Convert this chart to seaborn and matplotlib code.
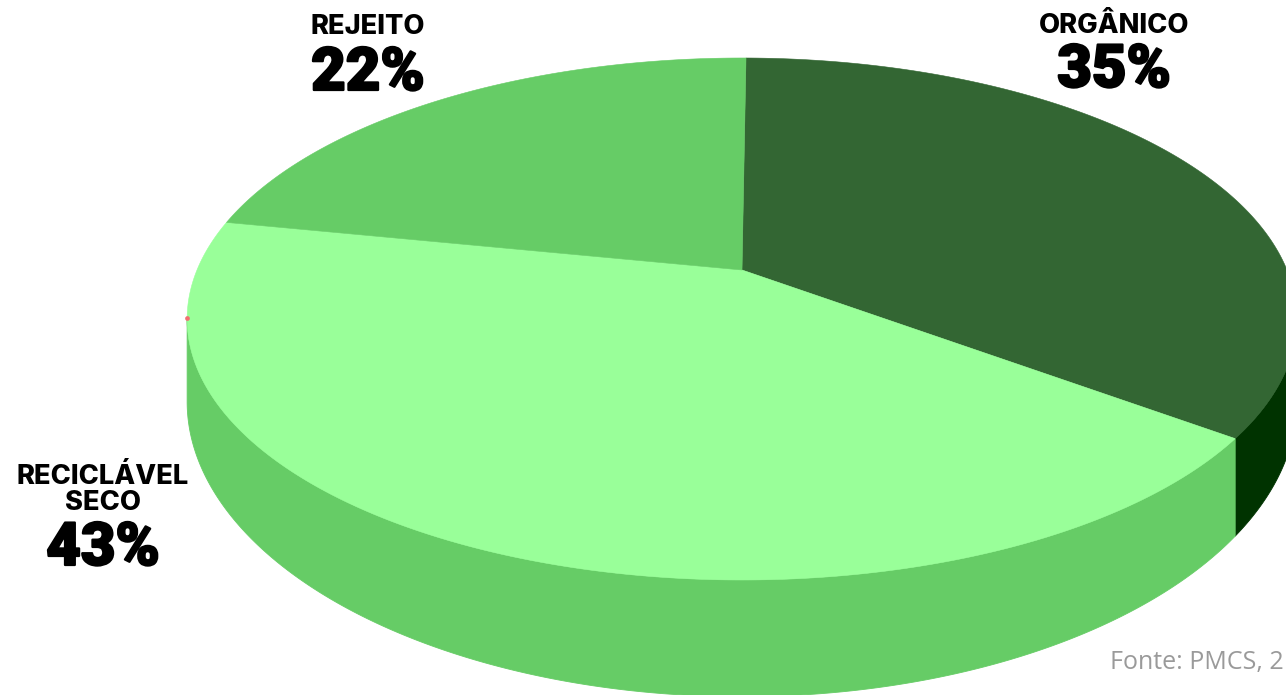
import numpy as np
import matplotlib
matplotlib.use("Agg")
import matplotlib.pyplot as plt
import matplotlib.patheffects as pe
import seaborn as sns

# Waste composition shares, in percent, clockwise from the top of the pie
categories = ["ORGÂNICO", "RECICLÁVEL\nSECO", "REJEITO"]
shares = [35, 43, 22]
top_colors = ["#336633", "#99FF99", "#66CC66"]
side_colors = ["#003300", "#66CC66", "#66CC66"]
source_note = "Fonte: PMCS, 2"

sns.set_theme(style="white")
plt.rcParams["font.family"] = ["Inter", "Roboto", "DejaVu Sans"]

# Perspective disc: far edge shrinks, near edge grows, the rim is extruded downward
START_DEG = 89.5
RX, RY, PERSP, RIM = 545.0, 251.8, 0.1877, 77.0


def project(deg):
    t = np.radians(deg)
    u, v = np.cos(t), np.sin(t)
    w = 1 + PERSP * v
    return RX * u / w, RY * v / w, RIM / w**2


fig = plt.figure(figsize=(12.86, 6.95), dpi=100, facecolor="white")
ax = fig.add_axes([0, 0, 1, 1])
ax.set_xlim(-742, 544)
ax.set_ylim(-425, 270)
ax.axis("off")

# Angular limits of each slice, derived from the shares
edges = START_DEG - 3.6 * np.concatenate([[0], np.cumsum(shares)])

# Rim first, only below the widest line of the disc, then the top faces over it
for a0, a1, color in zip(edges[:-1], edges[1:], side_colors):
    front = np.linspace(a0, a1, 600)
    front = front[np.sin(np.radians(front)) <= -PERSP]
    if front.size == 0:
        continue
    x, y, d = project(front)
    ax.fill(np.r_[x, x[::-1]], np.r_[y, (y - d)[::-1]], color=color, lw=0.6, zorder=1)

for a0, a1, color in zip(edges[:-1], edges[1:], top_colors):
    x, y, _ = project(np.linspace(a0, a1, 400))
    ax.fill(np.r_[0, x], np.r_[0, y], color=color, lw=0.4, zorder=2)

# Small red tick on the left edge of the disc
ax.plot([-554.5], [-48], "o", ms=3.4, color="#F27070", mew=0, zorder=3)

# Extra stroke gives the percentages a heavier, poster-like weight
heavy = [pe.withStroke(linewidth=1.6, foreground="black")]


def label(x_px, y_name, y_pct, name, pct):
    ax.text(x_px - 742, 270 - y_name, name, ha="center", va="center", fontsize=19.6,
            fontweight=800, color="black", linespacing=0.97, zorder=4)
    ax.text(x_px - 742, 270 - y_pct, f"{pct}%", ha="center", va="center", fontsize=43,
            fontweight=900, family=["Roboto", "DejaVu Sans"], color="black",
            path_effects=heavy, zorder=4)


label(1114, 26, 71, categories[0], shares[0])
label(103, 490, 549, categories[1], shares[1])
label(368, 27, 74, categories[2], shares[2])

ax.text(1110 - 742, 270 - 662, source_note, ha="left", va="center", fontsize=18,
        color="#9A9A9A", family=["Open Sans", "DejaVu Sans"], zorder=4)

fig.savefig("out.png", dpi=100, facecolor="white")
